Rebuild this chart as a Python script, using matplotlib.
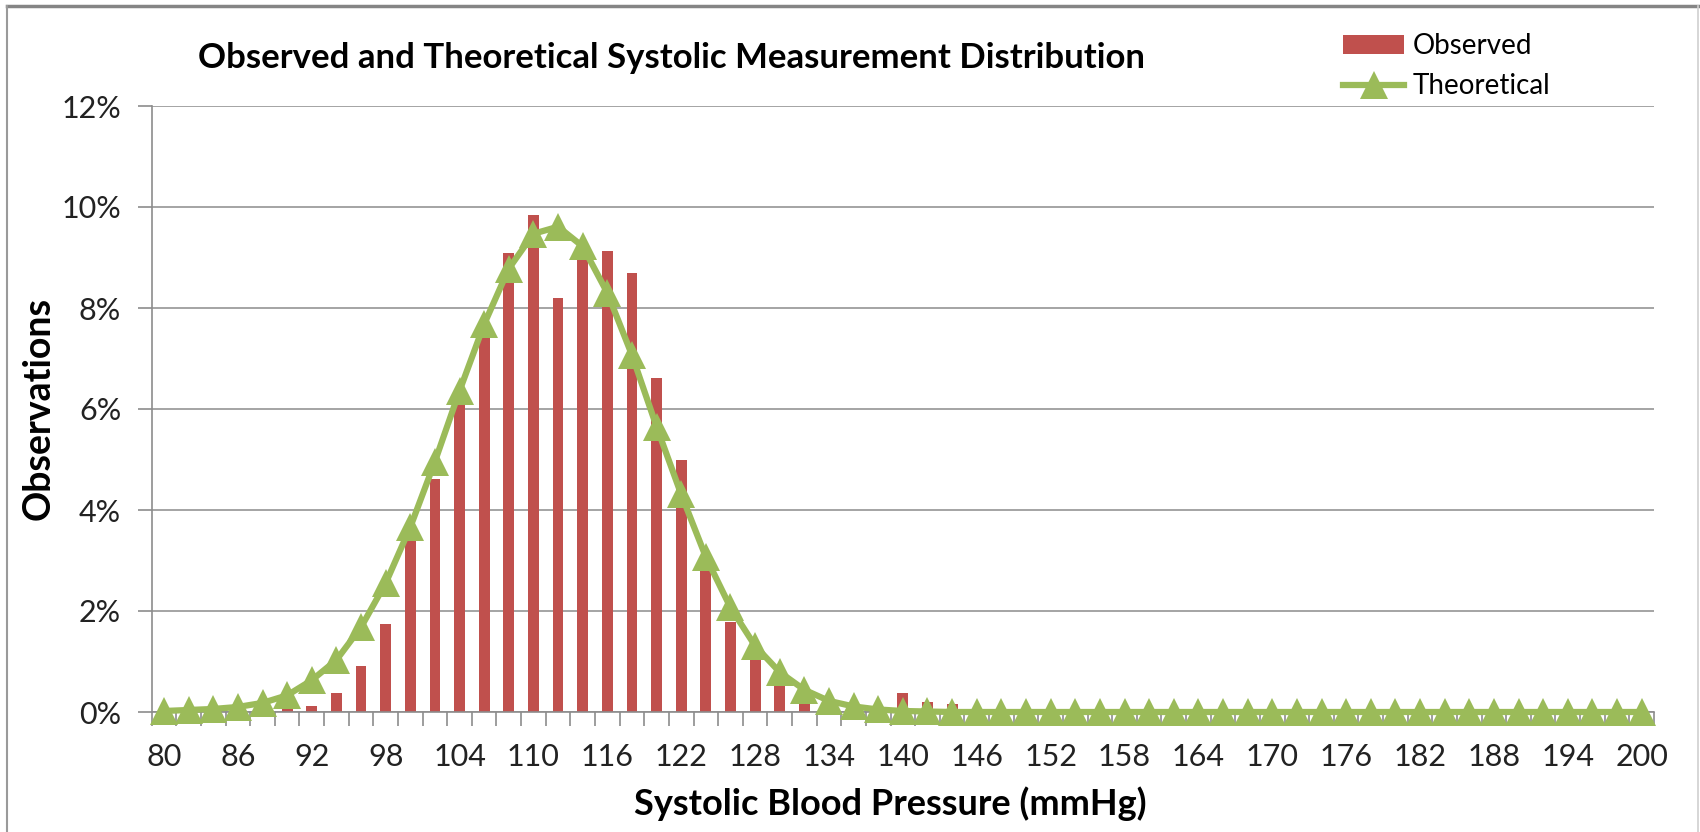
import numpy as np
import matplotlib
matplotlib.use('Agg')
import matplotlib.pyplot as plt
from matplotlib.lines import Line2D
from matplotlib.ticker import FixedLocator, FuncFormatter

# systolic pressure bins, 80..200 by 2
pressure = list(range(80, 202, 2))

observed = [0, 0, 0, 0, 0.02, 0.07, 0.11, 0.37, 0.91, 1.75,
            3.43, 4.61, 6.15, 7.5, 9.08, 9.85, 8.2, 9.0, 9.13, 8.7,
            6.62, 5.0, 2.8, 1.78, 1.1, 0.58, 0.22, 0.05, 0.02, 0,
            0.38, 0.19, 0.15] + [0] * 28

# theoretical (normal) share (%)
theoretical = [0.02, 0.04, 0.06, 0.1, 0.18, 0.33, 0.63, 1.03, 1.68, 2.55,
               3.66, 4.96, 6.36, 7.68, 8.78, 9.47, 9.61, 9.22, 8.3, 7.07,
               5.65, 4.31, 3.07, 2.07, 1.31, 0.79, 0.44, 0.22, 0.11, 0.05,
               0.02, 0.01] + [0] * 29

y_ticks = [0, 2, 4, 6, 8, 10, 12]

RED = '#C0504D'
GREEN = '#9BBB59'
GRID = '#8C8C8C'
FONT = ['Lato', 'DejaVu Sans']

W, H = 1700, 832
fig = plt.figure(figsize=(W / 100, H / 100), dpi=100)
ax = fig.add_axes([151.7 / W, 1 - 712 / H, (1654 - 151.7) / W, (712 - 106) / H])

x = np.arange(len(pressure))
bars = ax.bar(x, observed, width=0.44, color=RED, zorder=2, label='Observed')
line, = ax.plot(x, theoretical, color=GREEN, lw=4.5, marker='^', ms=20,
                markeredgewidth=0, zorder=3, label='Theoretical', clip_on=False)

ax.set_xlim(-0.5, len(pressure) - 0.5)
ax.set_ylim(0, 12)

ax.yaxis.set_major_locator(FixedLocator(y_ticks))
ax.yaxis.set_major_formatter(FuncFormatter(lambda v, p: f'{v:.0f}%'))
ax.tick_params(axis='y', length=10, width=1.2, color=GRID, pad=12,
               labelsize=22, labelcolor='#222222')
ax.set_xticks(x[::3])
ax.set_xticklabels([str(p) for p in pressure[::3]])
ax.set_xticks(np.arange(-0.5, len(pressure), 1), minor=True)
ax.tick_params(axis='x', which='major', length=0, pad=22, labelsize=22,
               labelcolor='#222222')
ax.tick_params(axis='x', which='minor', length=10, width=1.2, color=GRID)
for lab in ax.get_xticklabels() + ax.get_yticklabels():
    lab.set_family(FONT)

ax.grid(axis='y', color=GRID, lw=1.1, zorder=0)
ax.set_axisbelow(True)
for s in ['top', 'right']:
    ax.spines[s].set_visible(False)
for s in ['left', 'bottom']:
    ax.spines[s].set_color(GRID)
    ax.spines[s].set_linewidth(1.2)

# titles
fig.text(671 / W, 1 - 68 / H, 'Observed and Theoretical Systolic Measurement Distribution',
         ha='center', va='baseline', fontsize=25, fontweight='bold',
         family=FONT, color='black')
fig.text(890 / W, 1 - 815 / H, 'Systolic Blood Pressure (mmHg)', ha='center',
         va='baseline', fontsize=26, fontweight='bold', family=FONT)
fig.text(38.5 / W, 1 - 408 / H, 'Observations', ha='center', va='center',
         rotation=90, fontsize=27, fontweight='bold', family=FONT)

fig.legend(handles=[bars, line], labels=['Observed', 'Theoretical'],
           loc='upper left', bbox_to_anchor=(1343 / W, 1 - 33 / H), frameon=False,
           prop={'family': FONT, 'size': 20},
           handlelength=2.2, handleheight=0.7, handletextpad=0.3,
           labelspacing=0.52, borderpad=0, borderaxespad=0)

# chart area border
fig.add_artist(Line2D([7 / W, 1], [1 - 6 / H, 1 - 6 / H], color='#858585', lw=2.5))
fig.add_artist(Line2D([7 / W, 7 / W], [0, 1 - 6 / H], color='#9A9A9A', lw=1.5))
fig.add_artist(Line2D([1698 / W, 1698 / W], [0, 1 - 6 / H], color='#D0D0D0', lw=1.2))

fig.savefig('out.png', dpi=100, facecolor='white')
